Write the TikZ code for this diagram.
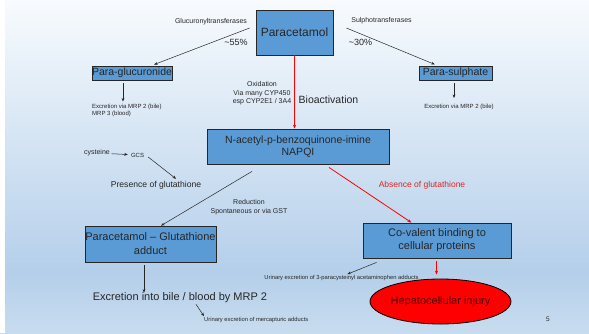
\documentclass[tikz,border=0pt]{standalone}
\usepackage{fontspec}
\setmainfont{Liberation Sans}
\usetikzlibrary{arrows.meta,shapes.geometric,calc}
\definecolor{boxblue}{HTML}{5B9BD5}
\definecolor{txt}{HTML}{262626}
\definecolor{bgtop}{HTML}{F8FBFE}
\definecolor{bgmid}{HTML}{B4CFEA}
\definecolor{bgbot}{HTML}{C8DCEF}
\definecolor{abs}{HTML}{D42828}
\definecolor{injtxt}{HTML}{420000}
\newcommand{\myfs}[2]{\fontsize{#1}{#2}\selectfont}
\begin{document}
\begin{tikzpicture}[x=1pt,y=-1pt,
  box/.style={draw=black!85, line width=0.8pt, fill=boxblue, inner sep=0pt, align=center, text=txt},
  lbl/.style={inner sep=0pt, text=txt, align=center},
  arr/.style={-{Stealth[length=3.5pt,width=2.8pt]}, line width=0.5pt, draw=txt},
  redarr/.style={-{Stealth[length=4pt,width=3.2pt]}, line width=0.9pt, draw=red},
]
% background
\useasboundingbox (0,0) rectangle (589,333);
\shade[top color=bgtop, bottom color=bgmid] (0,0) rectangle (589,272);
\shade[top color=bgmid, bottom color=bgbot] (0,272) rectangle (589,333);
\fill[white] (0,0) rectangle (5,333);

% top
\node[box, minimum width=77pt, minimum height=45pt, font=\myfs{12}{14}] (para) at (294.5,32.5) {Paracetamol};
\node[lbl, font=\myfs{7}{8}] (glt) at (211,22) {Glucuronyltransferases};
\node[lbl, font=\myfs{9}{10}] (p55) at (236,42) {\textasciitilde55\%};
\node[lbl, font=\myfs{7}{8}] (sut) at (381.5,21) {Sulphotransferases};
\node[lbl, font=\myfs{9}{10}] (p30) at (360.5,42) {\textasciitilde30\%};

\node[box, minimum width=80pt, minimum height=14pt, font=\myfs{10.5}{12}] (pgluc) at (132,73) {Para-glucuronide};
\node[box, minimum width=73pt, minimum height=14pt, font=\myfs{10.5}{12}] (psulph) at (455.5,73) {Para-sulphate};

\coordinate (gstart) at ([xshift=-6pt,yshift=4.5pt]para.west);
\coordinate (sstart) at ([xshift=13pt,yshift=4.5pt]para.east);
\draw[arr, shorten >=3pt] (gstart) -- (pgluc);
\draw[arr, shorten >=3pt] (sstart) -- (psulph);

\node[lbl, anchor=north west, align=left, font=\myfs{6}{7}] (exgl) at (92,103.5) {Excretion via MRP 2 (bile)\\MRP 3 (blood)};
\node[lbl, font=\myfs{6}{7}] (exsu) at (459,107) {Excretion via MRP 2 (bile)};
\draw[arr] ([xshift=-9pt,yshift=-3pt]pgluc.south) -- ([xshift=-9pt,yshift=2pt]pgluc.south |- exgl.north);
\draw[arr] ([xshift=-1.5pt,yshift=-3pt]psulph.south) -- ([xshift=-1.5pt,yshift=6pt]psulph.south |- exsu.north);

% bioactivation
\node[lbl, font=\myfs{7}{8.5}] (oxid) at (262,93.5) {Oxidation\\Via many CYP450\\esp CYP2E1 / 3A4};
\node[lbl, font=\myfs{10.5}{12}] (bioact) at (328.5,100) {Bioactivation};
\node[box, minimum width=182pt, minimum height=35pt, font=\myfs{10.5}{12}] (napqi) at (298,146.5) {N-acetyl-p-benzoquinone-imine\\NAPQI};
\draw[redarr] (para.south) -- (para.south |- napqi.north);

% glutathione branch
\node[lbl, font=\myfs{7}{8}] (cys) at (97,153) {cysteine};
\node[lbl, font=\myfs{6}{7}] (gcs) at (137.5,155) {GCS};
\draw[arr, shorten <=1.5pt, shorten >=3pt] (cys) -- (gcs);
\node[lbl, font=\myfs{8.6}{10}] (pres) at (156,185) {Presence of glutathione};
\draw[arr] ([shift={(4pt,-2pt)}]gcs.east) -- ([xshift=20pt,yshift=2pt]pres.north);

\node[lbl, font=\myfs{7}{9}] (red) at (249,207.5) {Reduction\\Spontaneous or via GST};
\node[lbl, font=\myfs{8.5}{10}, text=abs] (absn) at (422,185) {Absence of glutathione};

\node[box, minimum width=131pt, minimum height=36pt, font=\myfs{11}{14}] (adduct) at (150.5,244) {Paracetamol -- Glutathione\\adduct};
\node[box, minimum width=148pt, minimum height=35pt, font=\myfs{11}{13}] (cov) at (437,240.5) {Co-valent binding to\\cellular proteins};

\coordinate (nl) at ([shift={(-46pt,-7pt)}]napqi.south);
\coordinate (nr) at ([shift={(31pt,-3pt)}]napqi.south);
\draw[arr] (nl) -- (adduct.60);
\draw[redarr, line width=0.8pt] (nr) -- (cov.145);

% bottom
\node[lbl, font=\myfs{11}{13}] (excr) at (180,298) {Excretion into bile / blood by MRP 2};
\coordinate (adst) at ([xshift=-6.5pt,yshift=-3pt]adduct.south);
\draw[arr] (adst) -- (adst |- excr.north);
\node[lbl, anchor=west, font=\myfs{5.8}{7}] (urm) at (204,320) {Urinary excretion of mercapturic adducts};
\draw[arr] ([xshift=16pt,yshift=-1pt]excr.south) -- ([yshift=1pt]urm.north west);

\node[ellipse, draw=black, line width=0.8pt, fill=red, minimum width=119pt, minimum height=45pt, inner sep=0pt, font=\myfs{11}{13}, text=injtxt] (inj) at (440.5,301.5) {Hepatocellular injury};
\draw[redarr] ([xshift=-0.5pt,yshift=-3pt]cov.south) -- ([xshift=-4pt,yshift=4pt]inj.north);

\node[lbl, font=\myfs{5.8}{7}] (urp) at (341.5,278) {Urinary excretion of 3-paracysteinyl\ acetaminophen adducts};
\draw[arr] ([shift={(14pt,-4pt)}]cov.south west) -- ([xshift=6pt,yshift=1pt]urp.north);

\node[lbl, font=\myfs{6.5}{8}] (pg) at (548,319) {5};
\end{tikzpicture}
\end{document}
